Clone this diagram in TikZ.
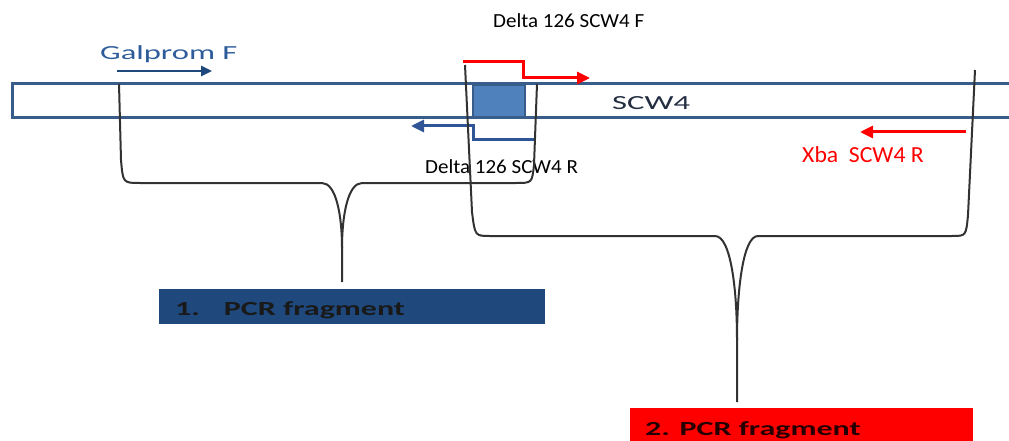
\documentclass[tikz,border=0pt]{standalone}
\usepackage{fontspec}
\setmainfont{Carlito}
\usetikzlibrary{arrows.meta}
\definecolor{stripblue}{RGB}{56,93,138}
\definecolor{boxfill}{RGB}{79,129,189}
\definecolor{arrowblue}{RGB}{31,73,125}
\definecolor{revblue}{RGB}{47,85,151}
\definecolor{pcrblue}{RGB}{31,73,125}
\definecolor{bracegray}{RGB}{50,50,50}
\definecolor{labelblue}{RGB}{46,92,154}
\definecolor{scwtext}{RGB}{35,45,65}
\begin{document}
\begin{tikzpicture}[x=1pt,y=-1pt,
  lbl/.style={inner sep=0pt,anchor=base west},
  brace/.style={draw=bracegray,line width=2pt},
  primer/.style={line width=3pt,-{Triangle[length=13pt,width=12pt]}},
  fs/.style={font=\fontsize{#1}{#1}\selectfont}]
\useasboundingbox (0,0) rectangle (1009,441);
% strip
\draw[stripblue,line width=3pt] (1012,84) -- (12,84) -- (12,118) -- (1012,118);
\node[draw=stripblue,fill=boxfill,line width=1.5pt,minimum width=52pt,minimum height=31pt,inner sep=0pt] (del) at (499,101) {};
\node[lbl,fs=20,text=scwtext] (scw) at (612,110) {\scalebox{1.63}[1]{SCW4}};
% Galprom F
\node[lbl,fs=20,text=labelblue] (gal) at (100,60) {\scalebox{1.63}[1]{Galprom F}};
\coordinate (g1) at (117,71);
\coordinate (g2) at (212,71);
\draw[arrowblue,line width=2.5pt,-{Triangle[length=11pt,width=10pt]}] (g1) -- (g2);
% Delta F
\node[lbl,fs=20] (dF) at (493,28) {\scalebox{1.05}[1]{Delta 126 SCW4 F}};
\coordinate (r1) at (463,62);
\coordinate (r2) at (590,78);
\draw[red,primer] (r1) -- (523,62) -- (523,78) -- (r2);
% Delta R
\node[lbl,fs=20] (dR) at (425,173) {\scalebox{1.05}[1]{Delta 126 SCW4 R}};
\coordinate (b1) at (535,140);
\coordinate (b2) at (411,126);
\draw[revblue,primer] (b1) -- (473,140) -- (473,126) -- (b2);
% Xba
\node[lbl,fs=23,text=red] (xba) at (802,162) {\scalebox{1.03}[1]{Xba\ \ SCW4 R}};
\coordinate (x1) at (966,132);
\coordinate (x2) at (860,132);
\draw[red,primer] (x1) -- (x2);
% PCR boxes
\node[fill=pcrblue,minimum width=386pt,minimum height=35pt,inner sep=0pt,anchor=north west] (p1) at (159,289) {};
\node[lbl,fs=20,text=black!90] (p1t) at (175,315) {\bfseries\scalebox{1.6}[1]{1.}\hspace{24pt}\scalebox{1.6}[1]{PCR fragment}};
\node[fill=red,minimum width=343pt,minimum height=40pt,inner sep=0pt,anchor=north west] (p2) at (630,408) {};
\node[lbl,fs=20,text=black!85!red] (p2t) at (645,435) {\bfseries\scalebox{1.6}[1]{2. PCR fragment}};
% brace 1
\coordinate (a1) at (119,84);
\coordinate (a2) at (537,84);
\coordinate (t1) at (342,282);
\draw[brace] (a1) -- (121,160) .. controls (123,183) .. (140,183) -- (322,183)
  .. controls (336,183) and (342,215) .. (342,248) -- (t1);
\draw[brace] (a2) -- (534,165) .. controls (532,183) .. (516,183) -- (362,183)
  .. controls (348,183) and (342,215) .. (342,248);
% brace 2
\coordinate (c1) at (465,65);
\coordinate (c2) at (975,70);
\coordinate (t2) at (737,402);
\draw[brace] (c1) -- (472,212) .. controls (475,236) .. (490,236) -- (715,236)
  .. controls (731,236) and (737,290) .. (737,340) -- (t2);
\draw[brace] (c2) -- (968,215) .. controls (966,236) .. (952,236) -- (758,236)
  .. controls (743,236) and (737,290) .. (737,340);
\end{tikzpicture}
\end{document}
